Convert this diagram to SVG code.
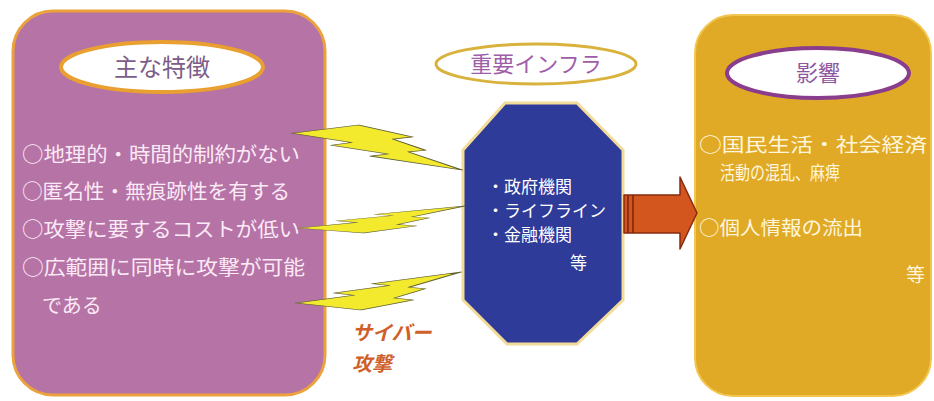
<svg xmlns="http://www.w3.org/2000/svg" xmlns:xlink="http://www.w3.org/1999/xlink" width="934" height="401" viewBox="0 0 934 401">
<style>
text { font-family: "Noto Sans CJK JP", "Noto Sans", sans-serif; }
.item { font-size: 20px; fill: #FBEAF6; }
.inf { font-size: 17px; fill: #FFFFFF; }
.eff { font-size: 19px; fill: #FFF6DC; }
.bolt { fill: #F3EA2E; stroke: #5E5E34; stroke-width: 1.5; vector-effect: non-scaling-stroke; stroke-linejoin: round; }
</style>
<defs>
<path id="boltShape" d="M39.2,0 L0,18.2 L35,39 L23.1,45 L56.5,64.4 L46.2,69.1 L100,100 L68.4,59.8 L78.5,56.2 L59.4,31.3 L70.9,26.5 Z"/>
</defs>
<rect width="934" height="401" fill="#FFFFFF"/>

<g id="features">
<rect x="13" y="11" width="312" height="384" rx="40" ry="40" fill="#B673A6" stroke="#EBA23C" stroke-width="3"/>
<ellipse cx="162" cy="67" rx="101" ry="25" fill="#FFFFFF" stroke="#E9A030" stroke-width="4"/>
<text x="162" y="76" text-anchor="middle" font-size="24" fill="#7C5C88">主な特徴</text>
<text class="item" x="22" y="162" textLength="278" lengthAdjust="spacingAndGlyphs">○地理的・時間的制約がない</text>
<text class="item" x="22" y="199" textLength="268" lengthAdjust="spacingAndGlyphs">○匿名性・無痕跡性を有する</text>
<text class="item" x="22" y="237" textLength="278" lengthAdjust="spacingAndGlyphs">○攻撃に要するコストが低い</text>
<text class="item" x="22" y="275" textLength="283" lengthAdjust="spacingAndGlyphs">○広範囲に同時に攻撃が可能</text>
<text class="item" x="42" y="313">である</text>
</g>

<g id="infra">
<ellipse cx="536" cy="64" rx="100" ry="20" fill="#FFFFFF" stroke="#D9B23E" stroke-width="3"/>
<text x="536" y="72" text-anchor="middle" font-size="22" fill="#A05EA8">重要インフラ</text>
<polygon points="505,103 577,103 623,150 623,300 577,344 507,344 463,300 463,150" fill="#2F3B99" stroke="#F2DC98" stroke-width="3"/>
<text class="inf" x="487" y="193">・政府機関</text>
<text class="inf" x="487" y="217">・ライフライン</text>
<text class="inf" x="487" y="241">・金融機関</text>
<text class="inf" x="570" y="269">等</text>
</g>

<g id="effects">
<rect x="695" y="15" width="236" height="381" rx="38" ry="38" fill="#E0AA26" stroke="#F2C650" stroke-width="2"/>
<ellipse cx="818" cy="73" rx="91" ry="25" fill="#FFFFFF" stroke="#8A3D8C" stroke-width="4"/>
<text x="818" y="81" text-anchor="middle" font-size="22" fill="#8F56A0">影響</text>
<text class="eff" x="699" y="152" textLength="228" lengthAdjust="spacingAndGlyphs">○国民生活・社会経済</text>
<text class="eff" x="720" y="180" textLength="120" lengthAdjust="spacingAndGlyphs">活動の混乱、麻痺</text>
<text class="eff" x="699" y="235" textLength="164" lengthAdjust="spacingAndGlyphs">○個人情報の流出</text>
<text class="eff" x="906" y="282" font-size="18">等</text>
</g>

<g id="connectors">
<use xlink:href="#boltShape" class="bolt" transform="translate(292,125) scale(1.7,0.45)"/>
<use xlink:href="#boltShape" class="bolt" transform="translate(298,233) scale(1.67,-0.27)"/>
<use xlink:href="#boltShape" class="bolt" transform="translate(296,310) scale(1.65,-0.38)"/>
<path d="M624,195 L680,195 L680,177 L697,213 L680,249 L680,233 L624,233 Z" fill="#D2561E" stroke="#8A2A10" stroke-width="1.5" stroke-linejoin="round"/>
<line x1="628" y1="195" x2="628" y2="233" stroke="#7A2410" stroke-width="1.5"/>
<line x1="633" y1="195" x2="633" y2="233" stroke="#7A2410" stroke-width="1.5"/>
<text x="352" y="340" font-size="20" font-weight="bold" font-style="italic" fill="#D0602A">サイバー</text>
<text x="352" y="371" font-size="20" font-weight="bold" font-style="italic" fill="#D0602A">攻撃</text>
</g>
</svg>
